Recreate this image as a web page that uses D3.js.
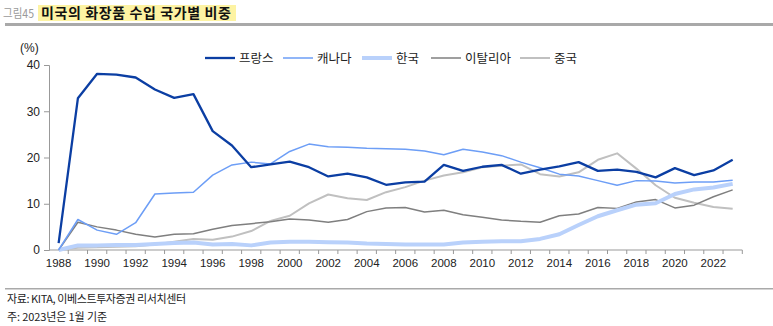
<!DOCTYPE html>
<html><head><meta charset="utf-8">
<script src="https://cdn.jsdelivr.net/npm/d3@7"></script>
<style>
html,body{margin:0;padding:0;background:#fff;}
svg text{font-family:"Liberation Sans Narrow","Liberation Sans","Noto Sans CJK KR",sans-serif;}
</style></head>
<body><svg id="c" width="773" height="326"></svg>
<script>
const years = d3.range(1988, 2024).map(String);
const xTickLabels = d3.range(1988, 2023, 2).map(String);
const yTicks = [0, 10, 20, 30, 40];
const seriesNames = ["프랑스", "캐나다", "한국", "이탈리아", "중국"];
const france = [1.5,32.8,38.1,37.9,37.3,34.7,32.9,33.7,25.7,22.6,17.9,18.5,19.1,17.9,15.9,16.5,15.7,14.1,14.6,14.8,18.4,17.1,18.0,18.4,16.5,17.4,18.1,19.0,17.1,17.4,16.9,15.7,17.7,16.2,17.2,19.5];
const canada = [0,6.6,4.3,3.4,5.9,12.1,12.3,12.5,16.2,18.4,19.0,18.6,21.3,22.9,22.3,22.2,22.0,21.9,21.8,21.4,20.6,21.8,21.2,20.4,19.0,17.8,16.4,16.0,15.0,14.0,15.0,14.9,14.5,14.7,14.7,15.1];
const korea = [0,1.0,1.0,1.1,1.1,1.3,1.5,1.6,1.2,1.3,1.0,1.6,1.8,1.8,1.7,1.6,1.4,1.3,1.2,1.2,1.2,1.6,1.8,1.9,1.9,2.4,3.4,5.4,7.3,8.6,9.8,10.1,12.1,13.1,13.5,14.3];
const italy = [0,6.0,5.0,4.3,3.4,2.8,3.4,3.5,4.5,5.3,5.7,6.1,6.7,6.5,6.0,6.6,8.3,9.1,9.2,8.2,8.6,7.6,7.1,6.5,6.2,6.0,7.4,7.8,9.2,9.0,10.4,10.9,9.1,9.7,11.5,13.0];
const china = [0,0.5,0.6,0.7,0.8,1.2,1.8,2.4,2.2,2.9,4.1,6.3,7.4,10.1,12.0,11.2,10.8,12.5,13.6,15.0,16.1,16.8,17.9,18.2,18.5,16.4,15.9,16.8,19.5,20.9,17.6,14.0,11.3,10.2,9.3,8.9];
const seriesValues = [france, canada, korea, italy, china];
const colors = ["#0b3ea3", "#6d9ef6", "#b9d1fb", "#7f7f7f", "#c0c0c0"];
const widths = [2.3, 1.5, 4, 1.5, 2];

const svg = d3.select("#c");

// title
svg.append("rect").attr("x", 38).attr("y", 5).attr("width", 198).attr("height", 16).attr("fill", "#fdf3a3");
svg.append("text").attr("x", 3).attr("y", 18).attr("font-size", 12).attr("fill", "#9a9a9a")
  .style("font-family", "'Noto Sans CJK KR',sans-serif").attr("textLength", 31).attr("lengthAdjust", "spacingAndGlyphs").text("그림45");
svg.append("text").attr("x", 41).attr("y", 18).attr("font-size", 14).attr("font-weight", "bold").attr("fill", "#111")
  .style("font-family", "'Noto Sans CJK KR',sans-serif").attr("textLength", 190).text("미국의 화장품 수입 국가별 비중");
svg.append("rect").attr("x", 5).attr("y", 23).attr("width", 768).attr("height", 3).attr("fill", "#a9a9a9");

const x = d3.scaleBand().domain(years).range([49, 742.3]).paddingInner(0).paddingOuter(0);
const y = d3.scaleLinear().domain([0, 40]).range([250, 65]);

// y axis
const ya = svg.append("g").attr("transform", "translate(49,0)")
  .call(d3.axisLeft(y).tickValues(yTicks).tickSize(5).tickPadding(4));
ya.select(".domain").attr("stroke", "#999");
ya.selectAll(".tick line").attr("stroke", "#999");
ya.selectAll("text").attr("font-size", 12).attr("fill", "#222");

svg.append("text").attr("x", 20).attr("y", 52).attr("font-size", 12).attr("fill", "#222").text("(%)");

// x axis
const xa = svg.append("g").attr("transform", "translate(0,250)");
xa.append("line").attr("x1", 49).attr("x2", 742.3).attr("y1", 0).attr("y2", 0).attr("stroke", "#999");
xa.selectAll("line.tk").data(years).enter().append("line")
  .attr("x1", d => x(d) + x.bandwidth()).attr("x2", d => x(d) + x.bandwidth())
  .attr("y1", 0).attr("y2", 4).attr("stroke", "#999");
xa.selectAll("text").data(xTickLabels).enter().append("text")
  .attr("x", d => x(d) + x.bandwidth() / 2).attr("y", 17).attr("text-anchor", "middle")
  .attr("font-size", 11.5).attr("fill", "#222").text(d => d);

// lines
const line = d3.line().x((d, i) => x(years[i]) + x.bandwidth() / 2).y(d => y(d));
const order = [4, 3, 2, 1, 0];
order.forEach(k => {
  svg.append("path").datum(seriesValues[k]).attr("d", line).attr("fill", "none")
    .attr("stroke", colors[k]).attr("stroke-width", widths[k]).attr("stroke-linejoin", "round");
});

// legend
const legX = [205, 283, 362, 431, 520];
seriesNames.forEach((n, k) => {
  svg.append("line").attr("x1", legX[k]).attr("x2", legX[k] + 30).attr("y1", 58).attr("y2", 58)
    .attr("stroke", colors[k]).attr("stroke-width", widths[k]);
  svg.append("text").attr("x", legX[k] + 34).attr("y", 62.5).attr("font-size", 12.5).attr("fill", "#222")
    .style("font-family", "'Noto Sans CJK KR',sans-serif").text(n);
});

// footer
svg.append("rect").attr("x", 5).attr("y", 288).attr("width", 768).attr("height", 1.5).attr("fill", "#a9a9a9");
svg.append("text").attr("x", 7).attr("y", 303).attr("font-size", 11).attr("fill", "#222")
  .style("font-family", "'Noto Sans CJK KR',sans-serif").attr("textLength", 179).text("자료: KITA, 이베스트투자증권 리서치센터");
svg.append("text").attr("x", 7).attr("y", 321).attr("font-size", 11).attr("fill", "#222")
  .style("font-family", "'Noto Sans CJK KR',sans-serif").attr("textLength", 100).text("주: 2023년은 1월 기준");
</script></body></html>
